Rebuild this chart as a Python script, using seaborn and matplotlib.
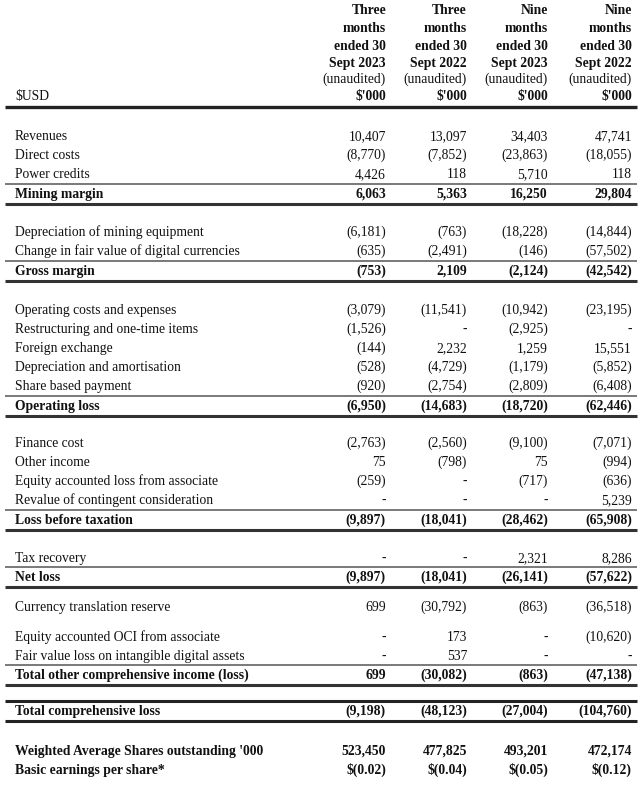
import seaborn as sns
import matplotlib.pyplot as plt

# column headers
col_heads = ["Three\nmonths\nended 30\nSept 2023",
             "Three\nmonths\nended 30\nSept 2022",
             "Nine\nmonths\nended 30\nSept 2023",
             "Nine\nmonths\nended 30\nSept 2022"]

labels = ["Revenues", "Direct costs", "Power credits", "Mining margin",
          "Depreciation of mining equipment", "Change in fair value of digital currencies", "Gross margin",
          "Operating costs and expenses", "Restructuring and one-time items", "Foreign exchange",
          "Depreciation and amortisation", "Share based payment", "Operating loss",
          "Finance cost", "Other income", "Equity accounted loss from associate",
          "Revalue of contingent consideration", "Loss before taxation",
          "Tax recovery", "Net loss",
          "Currency translation reserve",
          "Equity accounted OCI from associate", "Fair value loss on intangible digital assets",
          "Total other comprehensive income (loss)",
          "Total comprehensive loss",
          "Weighted Average Shares outstanding '000", "Basic earnings per share*"]

q3_2023 = [10407, -8770, 4426, 6063, -6181, -635, -753, -3079, -1526, -144, -528, -920, -6950,
           -2763, 75, -259, None, -9897, None, -9897, 699, None, None, 699, -9198, 523450, -0.02]
q3_2022 = [13097, -7852, 118, 5363, -763, -2491, 2109, -11541, None, 2232, -4729, -2754, -14683,
           -2560, -798, None, None, -18041, None, -18041, -30792, 173, 537, -30082, -48123, 477825, -0.04]
ytd_2023 = [34403, -23863, 5710, 16250, -18228, -146, -2124, -10942, -2925, 1259, -1179, -2809, -18720,
            -9100, 75, -717, None, -28462, 2321, -26141, -863, None, None, -863, -27004, 493201, -0.05]
ytd_2022 = [47741, -18055, 118, 29804, -14844, -57502, -42542, -23195, None, 15551, -5852, -6408, -62446,
            -7071, -994, -636, 5239, -65908, 8286, -57622, -36518, -10620, None, -47138, -104760, 472174, -0.12]

subtotals = ["Mining margin", "Gross margin", "Operating loss", "Loss before taxation", "Net loss",
             "Total other comprehensive income (loss)"]
bold_rows = subtotals + ["Total comprehensive loss", "Weighted Average Shares outstanding '000",
                         "Basic earnings per share*"]

# vertical gap before each row (px)
gaps = [40, 19, 19, 20, 38, 19, 20, 39, 19, 19, 19, 19, 20, 37, 19, 19, 19, 20, 38, 19, 30,
        30, 19, 19, 36, 40, 19]
head_rows = [10, 28, 46, 63]


def fmt(v):
    if v is None:
        return "-"
    if isinstance(v, float):
        return "$(%.2f)" % abs(v) if v < 0 else "$%.2f" % v
    return "(%s)" % format(abs(v), ",") if v < 0 else format(v, ",")


sns.set_theme(style="white")
plt.rcParams['font.family'] = ['Liberation Serif', 'DejaVu Serif']

fig = plt.figure(figsize=(6.4, 7.88), dpi=100)
ax = fig.add_axes([0, 0, 1, 1])
ax.set_xlim(0, 640)
ax.set_ylim(788, 0)
ax.axis("off")

col_x = [386, 467, 548, 632]
fs = 9.8
dark = "#111111"
va = "baseline"
off = 4  # row centre -> text baseline (whole px keeps glyphs from jittering)

for x, head in zip(col_x, col_heads):
    for yy, line in zip(head_rows, head.split("\n")):
        ax.text(x, yy + off, line, ha="right", va=va, fontsize=fs,
                fontweight="bold", color=dark)
    ax.text(x, 79 + off, "(unaudited)", ha="right", va=va, fontsize=fs, color=dark)
    ax.text(x, 96 + off, "$'000", ha="right", va=va, fontsize=fs, fontweight="bold", color=dark)

ax.text(15, 96 + off, "$USD", ha="left", va=va, fontsize=fs, color=dark)
ax.plot([5, 637], [107, 107], color="#222222", lw=2.4, solid_capstyle="butt")

y = 96
cols = [q3_2023, q3_2022, ytd_2023, ytd_2022]
for i, lab in enumerate(labels):
    y += gaps[i]
    weight = "bold" if lab in bold_rows else "normal"
    ax.text(15, y + off, lab, ha="left", va=va, fontsize=fs, fontweight=weight, color=dark)
    for x, col in zip(col_x, cols):
        ax.text(x, y + off, fmt(col[i]), ha="right", va=va, fontsize=fs, fontweight=weight, color=dark)
    if lab in subtotals:
        ax.plot([5, 637], [y - 10, y - 10], color="#555555", lw=1.1, solid_capstyle="butt")
        ax.plot([5, 637], [y + 10, y + 10], color="#333333", lw=2.2, solid_capstyle="butt")
    if lab == "Total comprehensive loss":
        ax.plot([5, 637], [y - 10, y - 10], color="#222222", lw=2.2, solid_capstyle="butt")
        ax.plot([5, 637], [y + 10, y + 10], color="#222222", lw=2.2, solid_capstyle="butt")

fig.savefig("out.png", dpi=100, facecolor="white")
